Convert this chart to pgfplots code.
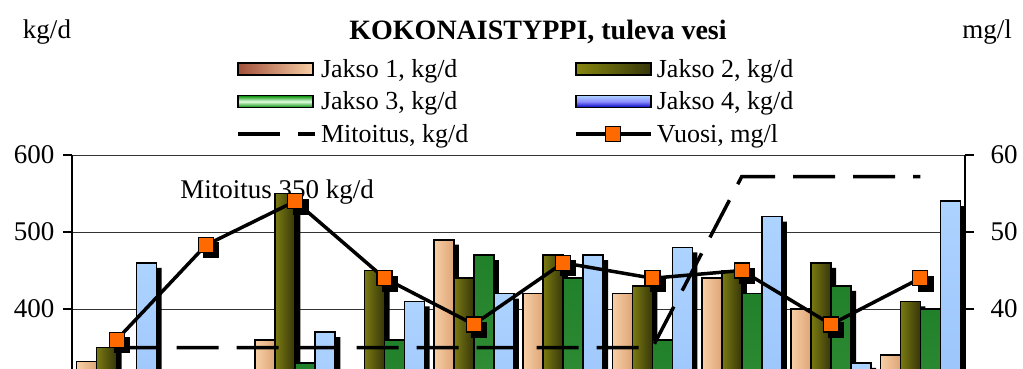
\documentclass[border=0pt]{standalone}
\usepackage{fontspec}
\setmainfont{Liberation Serif}
\usepackage{pgfplots}
\usepackage{pgfplotstable}
\pgfplotsset{compat=1.18}
\definecolor{peachL}{HTML}{F8CFA6}
\definecolor{peachD}{HTML}{DDA577}
\definecolor{oliveL}{HTML}{7A7A12}
\definecolor{oliveD}{HTML}{36360A}
\definecolor{greenL}{HTML}{4AA64A}
\definecolor{greenD}{HTML}{21802A}
\definecolor{blueL}{HTML}{ADD3FF}
\definecolor{blueD}{HTML}{84B2F7}
\definecolor{mkorange}{HTML}{FF6A00}
\newcommand{\fs}{\fontsize{27}{30}\selectfont}
\newcommand{\fl}{\fontsize{26}{30}\selectfont}
\pgfplotsset{vuosileg/.style={legend image code/.code={\draw[mark repeat=2,mark phase=2,##1] plot coordinates {(0pt,0pt) (37pt,0pt) (75pt,0pt)};}}}

\pgfplotstableread{
x j1 j2 j3 j4 mit vuosi
0 332 350 300 460 350 36
1 300 290 280 300 350 48.3
2 360 550 330 370 350 54
3 300 450 360 410 350 44
4 490 440 470 420 350 38
5 420 470 440 470 350 46
6 420 430 360 480 350 44
7 440 450 420 520 572 45
8 400 460 430 330 572 38
9 340 410 400 540 572 44
}\data

\begin{document}
\begin{tikzpicture}
\begin{axis}[
  at={(72pt,-617pt)}, anchor=south west,
  scale only axis, width=893pt, height=462pt,
  xmin=-0.5, xmax=9.5, ymin=0, ymax=600,
  hide x axis, axis y line*=left,
  ytick={400,500,600}, ymajorgrids,
  grid style={black!80, line width=0.9pt},
  axis line style={black, line width=1.3pt},
  tick style={black, line width=1.3pt},
  tick align=outside, major tick length=9pt,
  /pgf/number format/assume math mode=true,
  yticklabel style={font=\fs, xshift=-5pt},
]
\node[font=\fs] at (axis cs:1.796,552) {Mitoitus 350 kg/d};
\addplot[ybar, bar width=20pt, bar shift=-25pt, fill=black, draw=none, yshift=-5pt] table[x=x,y=j1]{\data};
\pgfplotsinvokeforeach{0,...,9}{
\addplot[ybar, bar width=20pt, bar shift=-30pt, draw=black, line width=1.6pt, left color=peachL, right color=peachD, restrict expr to domain={\coordindex}{#1:#1}] table[x=x,y=j1]{\data};
}
\addplot[ybar, bar width=20pt, bar shift=-5pt, fill=black, draw=none, yshift=-5pt] table[x=x,y=j2]{\data};
\pgfplotsinvokeforeach{0,...,9}{
\addplot[ybar, bar width=20pt, bar shift=-10pt, draw=black, line width=1.6pt, left color=oliveL, right color=oliveD, restrict expr to domain={\coordindex}{#1:#1}] table[x=x,y=j2]{\data};
}
\addplot[ybar, bar width=20pt, bar shift=15pt, fill=black, draw=none, yshift=-5pt] table[x=x,y=j3]{\data};
\pgfplotsinvokeforeach{0,...,9}{
\addplot[ybar, bar width=20pt, bar shift=10pt, draw=black, line width=1.6pt, top color=greenD, bottom color=greenL, restrict expr to domain={\coordindex}{#1:#1}] table[x=x,y=j3]{\data};
}
\addplot[ybar, bar width=20pt, bar shift=35pt, fill=black, draw=none, yshift=-5pt] table[x=x,y=j4]{\data};
\pgfplotsinvokeforeach{0,...,9}{
\addplot[ybar, bar width=20pt, bar shift=30pt, draw=black, line width=1.6pt, top color=blueL, bottom color=blueD, restrict expr to domain={\coordindex}{#1:#1}] table[x=x,y=j4]{\data};
}
\addplot[black, line width=3.5pt, dash pattern=on 42pt off 18pt] table[x=x,y=mit]{\data};
\end{axis}
\begin{axis}[
  at={(72pt,-617pt)}, anchor=south west,
  scale only axis, width=893pt, height=462pt,
  xmin=-0.5, xmax=9.5, ymin=0, ymax=60,
  hide x axis, axis y line*=right,
  ytick={40,50,60},
  axis line style={black, line width=1.3pt},
  tick style={black, line width=1.3pt},
  tick align=outside, major tick length=9pt,
  /pgf/number format/assume math mode=true,
  yticklabel style={font=\fs, xshift=13pt},
  legend columns=2,
  legend cell align=left,
  legend style={draw=none, fill=none, font=\fl, at={(0.184,1.21)}, anchor=north west,
    inner sep=0pt, row sep=11pt, nodes={inner xsep=4pt, inner ysep=1pt},
    /tikz/every even column/.append style={column sep=102pt}},
]
\addlegendimage{legend image code/.code={\draw[draw=black,line width=1.6pt,left color=peachD!70!red!70!black,right color=peachL] (0pt,-6pt) rectangle (75pt,6pt);}}
\addlegendentry{Jakso 1, kg/d}
\addlegendimage{legend image code/.code={\draw[draw=black,line width=1.6pt,left color=oliveL!90!yellow,right color=oliveD] (0pt,-6pt) rectangle (75pt,6pt);}}
\addlegendentry{Jakso 2, kg/d}
\addlegendimage{legend image code/.code={\draw[draw=black,line width=1.6pt,top color=green!55!black,bottom color=green!55!black,middle color=green!12] (0pt,-6pt) rectangle (75pt,6pt);}}
\addlegendentry{Jakso 3, kg/d}
\addlegendimage{legend image code/.code={\draw[draw=black,line width=1.6pt,top color=blueL,bottom color=blue!75!black,middle color=blue!45!white] (0pt,-6pt) rectangle (75pt,6pt);}}
\addlegendentry{Jakso 4, kg/d}
\addlegendimage{legend image code/.code={\draw[black,line width=3.5pt,dash pattern=on 42pt off 18pt] (0pt,0pt) -- (77pt,0pt);}}
\addlegendentry{Mitoitus, kg/d}
\addplot[forget plot, only marks, mark=square*, mark size=7.5pt, mark options={fill=black, draw=black}, xshift=5pt, yshift=-5pt] table[x=x,y=vuosi]{\data};
\addplot[black, line width=3.5pt, mark=square*, mark size=7.5pt, mark options={fill=mkorange, draw=black, line width=1.2pt}, vuosileg] table[x=x,y=vuosi]{\data};
\addlegendentry{Vuosi, mg/l}
\end{axis}
\node[font=\fs] at (47pt,-32pt) {kg/d};
\node[font=\fontsize{28}{30}\selectfont\bfseries] at (538pt,-32pt) {KOKONAISTYPPI, tuleva vesi};
\node[font=\fs] at (987pt,-32pt) {mg/l};
\pgfresetboundingbox
\path[use as bounding box] (0pt,0pt) rectangle (1023pt,-368pt);
\end{tikzpicture}
\end{document}
